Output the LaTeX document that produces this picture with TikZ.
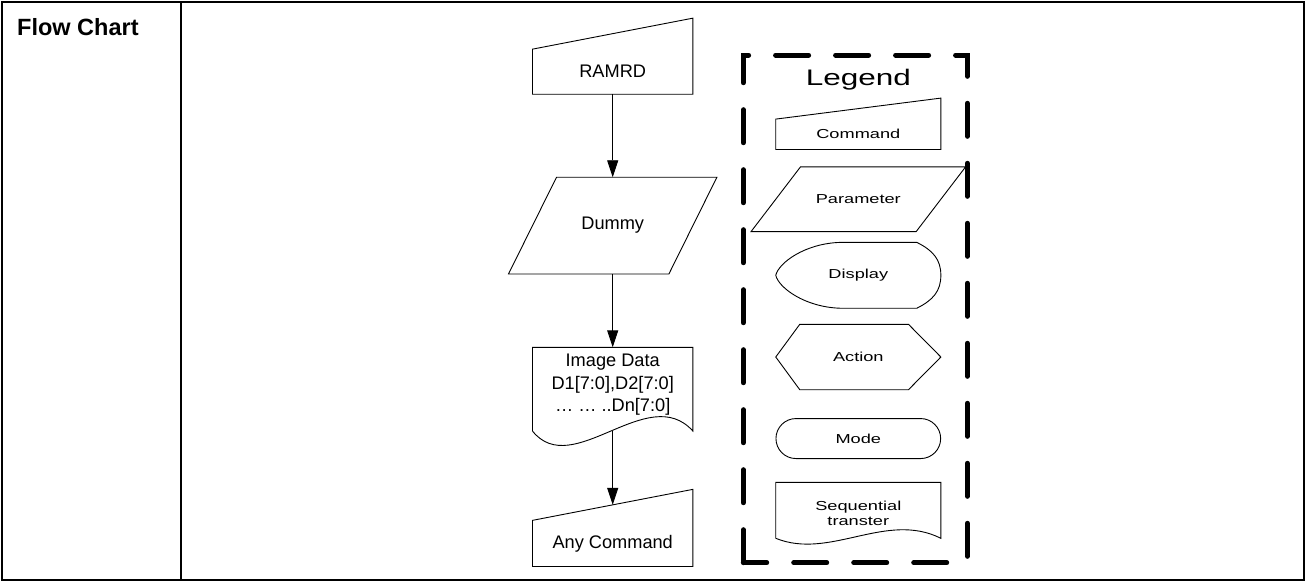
\documentclass[tikz,border=0pt]{standalone}
\usepackage{fontspec}
\setmainfont{Liberation Sans}
\newfontfamily\legendfont[FakeStretch=1.4]{Liberation Sans}
\usetikzlibrary{arrows.meta, positioning, shapes.misc}

\tikzset{
  %% ---- boxes ----
  flowbox/.style = {rectangle, inner sep=0pt, minimum width=160pt,
                    minimum height=#1, align=center,
                    font=\fontsize{18.2}{22.5}\selectfont},
  legbox/.style  = {rectangle, inner sep=0pt, minimum width=164.7pt,
                    minimum height=#1, align=center,
                    font=\legendfont\fontsize{13}{15}\selectfont},
  shp/.style     = {line width=0.9pt, line join=miter},
  %% ---- arrows ----
  arr/.style     = {-{Triangle[length=17pt,width=11pt]}, line width=0.9pt},
}

\begin{document}
\begin{tikzpicture}[x=1pt, y=-1pt]
\useasboundingbox (0,0) rectangle (1305,581);
% table frame
\draw[line width=2pt] (1.5,1.5) rectangle (1303.5,579.5);
\draw[line width=2pt] (181,1.5) -- (181,579.5);
\node[anchor=base west, inner sep=0pt, font=\bfseries\fontsize{23.5}{28}\selectfont] (title) at (17,35) {Flow Chart};

% flow
\node[flowbox=44.7pt]                      (ramrd)   at (612.7,71.7) {RAMRD};
\node[flowbox=96.3pt, below=83pt of ramrd]   (dummy)   {Dummy};
\node[flowbox=74.6pt, below=73.4pt of dummy] (imgdata) {Image Data\\D1[7:0],D2[7:0]\\… … ..Dn[7:0]};
\node[flowbox=45.7pt, below=98pt of imgdata] (anycmd)  {Any Command};

\draw[shp] (ramrd.south west) -- (ramrd.north west) -- ([yshift=31pt]ramrd.north east) -- (ramrd.south east) -- cycle;
\draw[shp] ([xshift=24pt]dummy.north west) -- ([xshift=24pt]dummy.north east) -- ([xshift=-24pt]dummy.south east) -- ([xshift=-24pt]dummy.south west) -- cycle;
\draw[shp] ([yshift=-8.7pt]imgdata.south west) -- (imgdata.north west) -- (imgdata.north east) -- ([yshift=-8.7pt]imgdata.south east)
  .. controls +(-45,-50) and +(40,50) .. ([yshift=-8.7pt]imgdata.south west);
\draw[shp] (anycmd.south west) -- (anycmd.north west) -- ([yshift=31pt]anycmd.north east) -- (anycmd.south east) -- cycle;

\draw[arr] (ramrd) -- (dummy);
\draw[arr] (dummy) -- (imgdata);
\draw[arr] ([yshift=-8.7pt]imgdata.south) -- ([yshift=15.5pt]anycmd.north);

% legend
\draw[line width=5pt, dash pattern=on 33pt off 27pt, line cap=round] (743.3,562.7) -- (743.3,55) -- (967.3,55) -- (967.3,562.7) -- cycle;
\node[font=\legendfont\fontsize{22.5}{26}\selectfont] (legend) at (858.3,80) {Legend};

\node[legbox=30pt] (cmd) at (858.3,134.3) {Command};
\draw[shp] (cmd.south west) -- (cmd.north west) -- ([yshift=21pt]cmd.north east) -- (cmd.south east) -- cycle;

\node[legbox=64.3pt, below=17.4pt of cmd] (param) {Parameter};
\draw[shp] ([xshift=24.7pt]param.north west) -- ([xshift=24.7pt]param.north east) -- ([xshift=-24.7pt]param.south east) -- ([xshift=-24.7pt]param.south west) -- cycle;

\node[legbox=65.4pt, below=10.8pt of param] (disp) {Display};
\draw[shp] ([xshift=64pt]disp.north west) -- ([xshift=-24pt]disp.north east)
  .. controls +(16,8) and +(0,-16) .. (disp.east)
  .. controls +(0,16) and +(16,-8) .. ([xshift=-24pt]disp.south east)
  -- ([xshift=64pt]disp.south west)
  .. controls +(-35,-1.2) and +(3,12.5) .. (disp.west)
  .. controls +(3,-12.5) and +(-35,1.2) .. ([xshift=64pt]disp.north west);

\node[legbox=65pt, below=16.1pt of disp] (action) {Action};
\draw[shp] (action.west) -- ([xshift=24pt]action.north west) -- ([xshift=-32.4pt]action.north east) -- (action.east) -- ([xshift=-32.4pt]action.south east) -- ([xshift=24pt]action.south west) -- cycle;

\node[legbox=40pt, rounded rectangle, draw, shp, below=28.4pt of action] (mode) {Mode};

\node[legbox=61.6pt, below=23.3pt of mode] (seq) {Sequential\\transter};
\draw[shp] ([yshift=6pt]seq.south west) -- (seq.north west) -- (seq.north east) -- ([yshift=6pt]seq.south east)
  .. controls +(-54.7,-27.5) and +(54.3,22) .. ([yshift=6pt]seq.south west);
\end{tikzpicture}
\end{document}
